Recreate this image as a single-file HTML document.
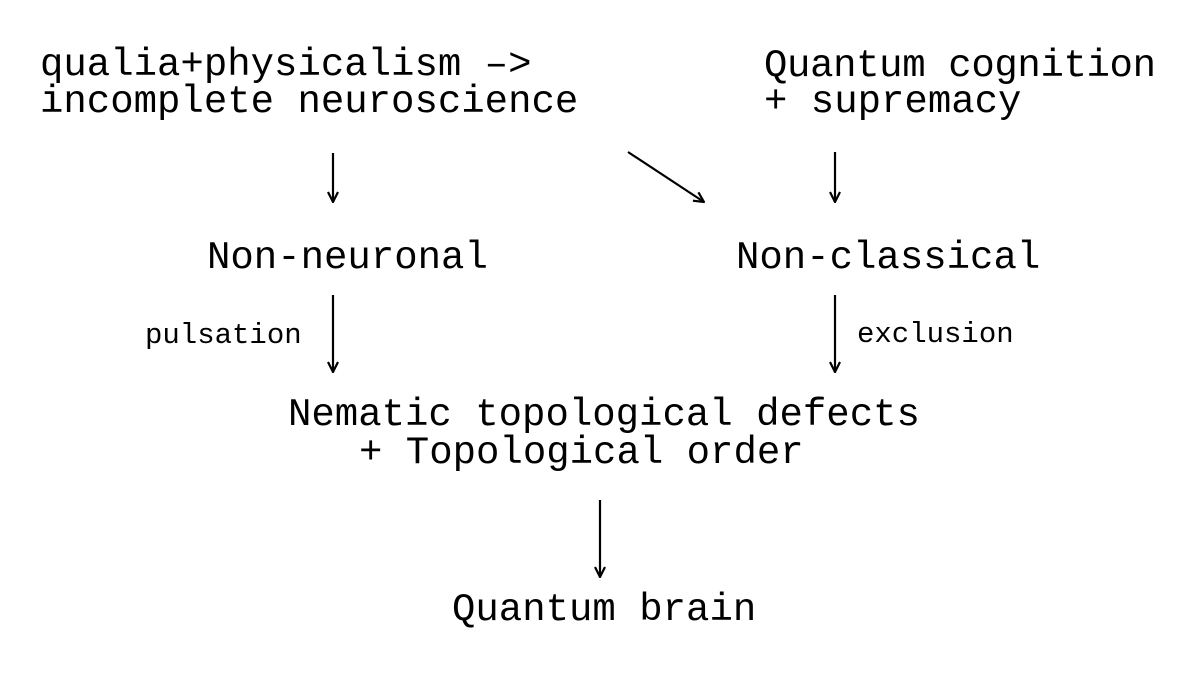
<!DOCTYPE html>
<html><head><meta charset="utf-8"><style>
html,body{margin:0;padding:0;background:#fff;}
svg{display:block;}
text{font-family:"Liberation Mono","DejaVu Sans Mono",monospace;fill:#000;}
.b{font-size:39px;}
.s{font-size:29px;}
</style></head><body>
<svg width="1200" height="681" viewBox="0 0 1200 681" xmlns="http://www.w3.org/2000/svg">
<defs>
<marker id="ah" viewBox="0 0 12 12" refX="11" refY="6" markerWidth="12" markerHeight="12" markerUnits="userSpaceOnUse" orient="auto">
<path d="M1,1 L11,6 L1,11" fill="none" stroke="#000" stroke-width="2.2"/>
</marker>
</defs>
<text class="b" x="40" y="75">qualia+physicalism –&gt;</text>
<text class="b" x="40" y="112">incomplete neuroscience</text>
<text class="b" x="764" y="76" textLength="392">Quantum cognition</text>
<text class="b" x="764" y="112">+ supremacy</text>
<text class="b" x="207" y="268">Non-neuronal</text>
<text class="b" x="736" y="268">Non-classical</text>
<text class="b" x="288" y="425">Nematic topological defects</text>
<text class="b" x="359" y="463">+ Topological order</text>
<text class="b" x="452" y="620">Quantum brain</text>
<text class="s" x="145" y="343">pulsation</text>
<text class="s" x="857" y="342">exclusion</text>
<g stroke="#000" stroke-width="2.2" fill="none">
<line x1="333" y1="153" x2="333" y2="202" marker-end="url(#ah)"/>
<line x1="628" y1="152" x2="704" y2="202" marker-end="url(#ah)"/>
<line x1="835" y1="152" x2="835" y2="202" marker-end="url(#ah)"/>
<line x1="333" y1="295" x2="333" y2="372" marker-end="url(#ah)"/>
<line x1="835" y1="295" x2="835" y2="372" marker-end="url(#ah)"/>
<line x1="600" y1="500" x2="600" y2="577" marker-end="url(#ah)"/>
</g>
</svg>
</body></html>
